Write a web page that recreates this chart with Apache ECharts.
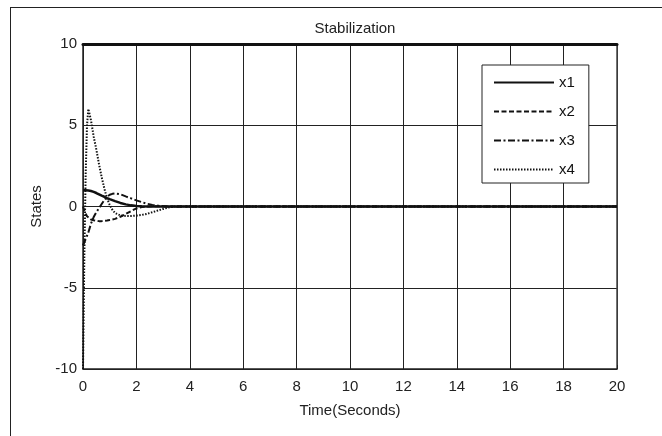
<!DOCTYPE html>
<html><head><meta charset="utf-8">
<script src="https://cdn.jsdelivr.net/npm/echarts@6/dist/echarts.min.js"></script>
<style>html,body{margin:0;padding:0;background:#fff}#c{width:662px;height:436px}</style>
</head><body><div id="c"></div>
<script>
const titleText = 'Stabilization';
const xName = 'Time(Seconds)';
const yName = 'States';
const seriesNames = ['x1', 'x2', 'x3', 'x4'];
const time = [0, 0.05, 0.1, 0.15, 0.2, 0.3, 0.4, 0.5, 0.6, 0.7, 0.8, 0.9, 1.0, 1.1, 1.2, 1.4, 1.6, 1.8, 2.0, 2.2, 2.4, 2.6, 2.8, 3.0, 3.2, 3.4, 3.6, 4, 6, 10, 15, 20];
const x1 = [1, 1, 1, 0.99, 0.98, 0.95, 0.9, 0.83, 0.75, 0.67, 0.6, 0.52, 0.45, 0.39, 0.33, 0.22, 0.13, 0.07, 0.03, 0.01, 0, 0, 0, 0, 0, 0, 0, 0, 0, 0, 0, 0];
const x2 = [0, -0.25, -0.45, -0.6, -0.7, -0.8, -0.85, -0.88, -0.9, -0.9, -0.88, -0.86, -0.83, -0.8, -0.76, -0.63, -0.46, -0.28, -0.12, -0.03, 0, 0.02, 0.02, 0.01, 0, 0, 0, 0, 0, 0, 0, 0];
const x3 = [-2.4, -2.2, -2.0, -1.8, -1.6, -1.05, -0.65, -0.35, -0.1, 0.15, 0.4, 0.6, 0.72, 0.78, 0.8, 0.75, 0.62, 0.5, 0.38, 0.27, 0.17, 0.1, 0.05, 0.02, 0, -0.02, 0, 0, 0, 0, 0, 0];
const x4 = [-10, -3, 2, 5, 6, 5.3, 4.3, 3.5, 2.6, 1.8, 1.1, 0.5, 0.1, -0.2, -0.4, -0.55, -0.58, -0.58, -0.56, -0.52, -0.45, -0.35, -0.25, -0.15, -0.06, 0, 0, 0, 0, 0, 0, 0];
const seriesValues = [x1, x2, x3, x4];
const dashes = ['solid', [5, 2.5], [7, 2.5, 2, 2.5], [1.5, 1.5]];
const widths = [2.5, 2, 2, 2];

const font = "'Liberation Sans Narrow', 'Liberation Sans', Arial, sans-serif";
const chart = echarts.init(document.getElementById('c'), null, {renderer: 'canvas'});
chart.setOption({
  animation: false,
  backgroundColor: '#fff',
  title: {text: titleText, left: 350, top: 16, textAlign: 'center',
    textStyle: {fontFamily: font, fontSize: 15, fontWeight: 'normal', color: '#222'}},
  grid: {left: 83, top: 44, width: 534, height: 325},
  legend: {
    orient: 'vertical', left: 482, top: 65,
    padding: [10, 14, 6, 11], itemWidth: 60, itemHeight: 14, itemGap: 14,
    backgroundColor: '#fff', borderColor: '#222', borderWidth: 1,
    itemStyle: {color: 'transparent', borderWidth: 0, opacity: 0},
    textStyle: {fontFamily: font, fontSize: 15, color: '#111'},
    data: seriesNames
  },
  xAxis: [{
    type: 'value', min: 0, max: 20, interval: 2,
    name: xName, nameLocation: 'middle', nameGap: 34,
    nameTextStyle: {fontFamily: font, fontSize: 15, color: '#222'},
    axisLine: {onZero: false, lineStyle: {color: '#222', width: 1.5}},
    axisTick: {inside: true, length: 4, lineStyle: {color: '#222'}},
    axisLabel: {fontFamily: font, fontSize: 15, color: '#222', margin: 10},
    splitLine: {show: true, lineStyle: {color: '#222', width: 1}}
  }, {
    type: 'value', min: 0, max: 20, interval: 2, position: 'top',
    axisLine: {show: true, onZero: false, lineStyle: {color: '#111', width: 3}},
    axisTick: {show: false}, axisLabel: {show: false}, splitLine: {show: false}
  }],
  yAxis: [{
    type: 'value', min: -10, max: 10, interval: 5,
    name: yName, nameLocation: 'middle', nameGap: 36,
    nameTextStyle: {fontFamily: font, fontSize: 15, color: '#222'},
    axisLine: {show: true, onZero: false, lineStyle: {color: '#222', width: 1.5}},
    axisTick: {show: false},
    axisLabel: {fontFamily: font, fontSize: 15, color: '#222', margin: 6},
    splitLine: {show: true, lineStyle: {color: '#222', width: 1}}
  }, {
    type: 'value', min: -10, max: 10, interval: 5, position: 'right',
    axisLine: {show: true, onZero: false, lineStyle: {color: '#444', width: 1.5}},
    axisTick: {show: false}, axisLabel: {show: false}, splitLine: {show: false}
  }],
  graphic: [
    {type: 'line', shape: {x1: 10, y1: 7.5, x2: 662, y2: 7.5}, style: {stroke: '#222', lineWidth: 1}},
    {type: 'line', shape: {x1: 10.5, y1: 7, x2: 10.5, y2: 436}, style: {stroke: '#222', lineWidth: 1}}
  ],
  series: seriesNames.map((n, i) => ({
    name: n, type: 'line', symbol: 'none', clip: true,
    data: time.map((t, k) => [t, seriesValues[i][k]]),
    lineStyle: {color: '#111', width: widths[i], type: dashes[i]},
    itemStyle: {color: '#111'}
  }))
});
</script></body></html>
